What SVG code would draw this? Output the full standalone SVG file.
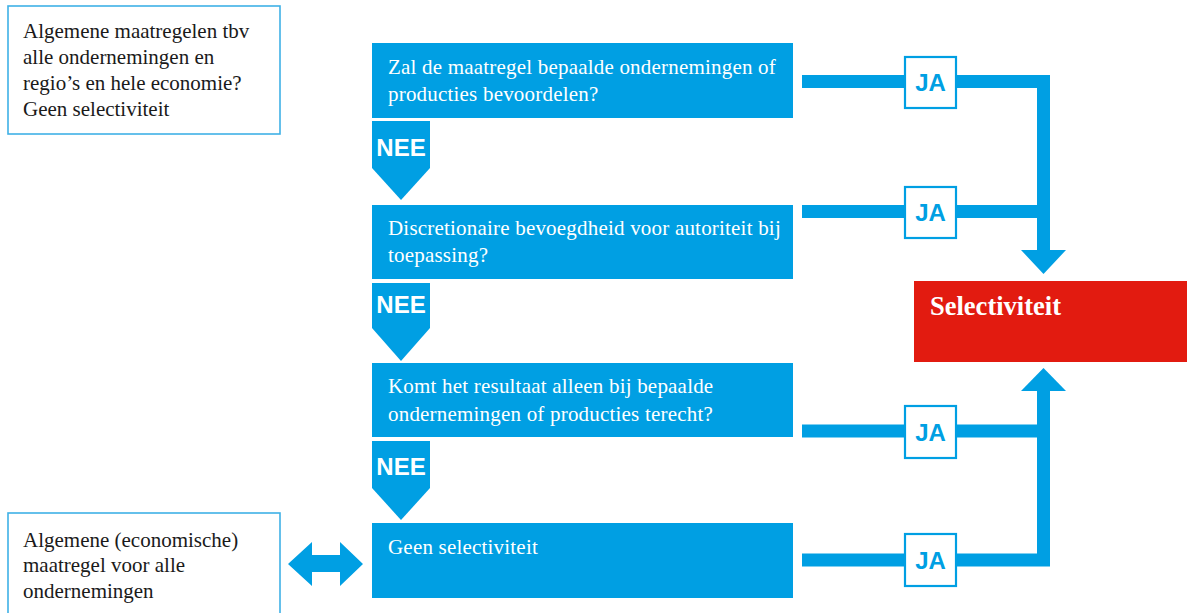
<svg xmlns="http://www.w3.org/2000/svg" width="1189" height="613" viewBox="0 0 1189 613">
<style>
.q{fill:#009fe3}
.qt{fill:#fff;font-family:"Liberation Serif",serif;font-size:21px;letter-spacing:0.2px}
.note{fill:#fff;stroke:#3fb1e6;stroke-width:1.6}
.nt{fill:#1a1a1a;font-family:"Liberation Serif",serif;font-size:21px}
.nee{fill:#fff;font-family:"Liberation Sans",sans-serif;font-weight:bold;font-size:24px;text-anchor:middle}
.ja{fill:#fff;stroke:#009fe3;stroke-width:2.2}
.jat{fill:#009fe3;font-family:"Liberation Sans",sans-serif;font-weight:bold;font-size:24px;text-anchor:middle}
.ln{fill:none;stroke:#009fe3;stroke-width:13}
</style>
<rect width="1189" height="613" fill="#fff"/>
<g id="note-top">
<rect class="note" x="8" y="6" width="272" height="128"/>
<text class="nt" x="23" y="38">Algemene maatregelen tbv</text>
<text class="nt" x="23" y="64">alle ondernemingen en</text>
<text class="nt" x="23" y="90">regio’s en hele economie?</text>
<text class="nt" x="23" y="116">Geen selectiviteit</text>
</g>
<g id="note-bottom">
<rect class="note" x="8" y="513" width="272" height="110"/>
<text class="nt" x="23" y="547">Algemene (economische)</text>
<text class="nt" x="23" y="572">maatregel voor alle</text>
<text class="nt" x="23" y="598">ondernemingen</text>
</g>
<g id="connectors">
<polyline class="ln" points="802,81.5 1043.5,81.5 1043.5,252"/>
<line class="ln" x1="802" y1="211.5" x2="1043.5" y2="211.5"/>
<polygon class="q" points="1021,250 1066,250 1043.5,274"/>
<polyline class="ln" points="802,431 1043.5,431"/>
<polyline class="ln" points="802,560 1043.5,560 1043.5,388"/>
<polygon class="q" points="1021,391 1066,391 1043.5,368"/>
<polygon class="q" points="288,564 312,542 312,555 340,555 340,542 363,564 340,586 340,572 312,572 312,586"/>
</g>
<g id="q1">
<rect class="q" x="372" y="43" width="421" height="75"/>
<text class="qt" x="388" y="74">Zal de maatregel bepaalde ondernemingen of</text>
<text class="qt" x="388" y="101">producties bevoordelen?</text>
</g>
<g id="nee1">
<polygon class="q" points="372,121 430,121 430,168 401,200 372,168"/>
<text class="nee" x="401" y="156">NEE</text>
</g>
<g id="q2">
<rect class="q" x="372" y="205" width="421" height="74"/>
<text class="qt" x="388" y="235">Discretionaire bevoegdheid voor autoriteit bij</text>
<text class="qt" x="388" y="262">toepassing?</text>
</g>
<g id="nee2">
<polygon class="q" points="372,283 430,283 430,328 401,361 372,328"/>
<text class="nee" x="401" y="313">NEE</text>
</g>
<g id="q3">
<rect class="q" x="372" y="363" width="421" height="74"/>
<text class="qt" x="388" y="393">Komt het resultaat alleen bij bepaalde</text>
<text class="qt" x="388" y="421">ondernemingen of producties terecht?</text>
</g>
<g id="nee3">
<polygon class="q" points="372,441 430,441 430,488 401,520 372,488"/>
<text class="nee" x="401" y="475">NEE</text>
</g>
<g id="q4">
<rect class="q" x="372" y="523" width="421" height="75"/>
<text class="qt" x="388" y="554">Geen selectiviteit</text>
</g>
<g id="ja1"><rect class="ja" x="905" y="57" width="51" height="51"/><text class="jat" x="930.5" y="91">JA</text></g>
<g id="ja2"><rect class="ja" x="905" y="187" width="51" height="51"/><text class="jat" x="930.5" y="221">JA</text></g>
<g id="ja3"><rect class="ja" x="905" y="406" width="51" height="52"/><text class="jat" x="930.5" y="441">JA</text></g>
<g id="ja4"><rect class="ja" x="905" y="534" width="51" height="52"/><text class="jat" x="930.5" y="569">JA</text></g>
<g id="selectiviteit">
<rect x="914" y="281" width="273" height="81" fill="#e21b10"/>
<text x="930" y="315" fill="#fff" font-family="Liberation Serif, serif" font-weight="bold" font-size="26.5">Selectiviteit</text>
</g>
</svg>
